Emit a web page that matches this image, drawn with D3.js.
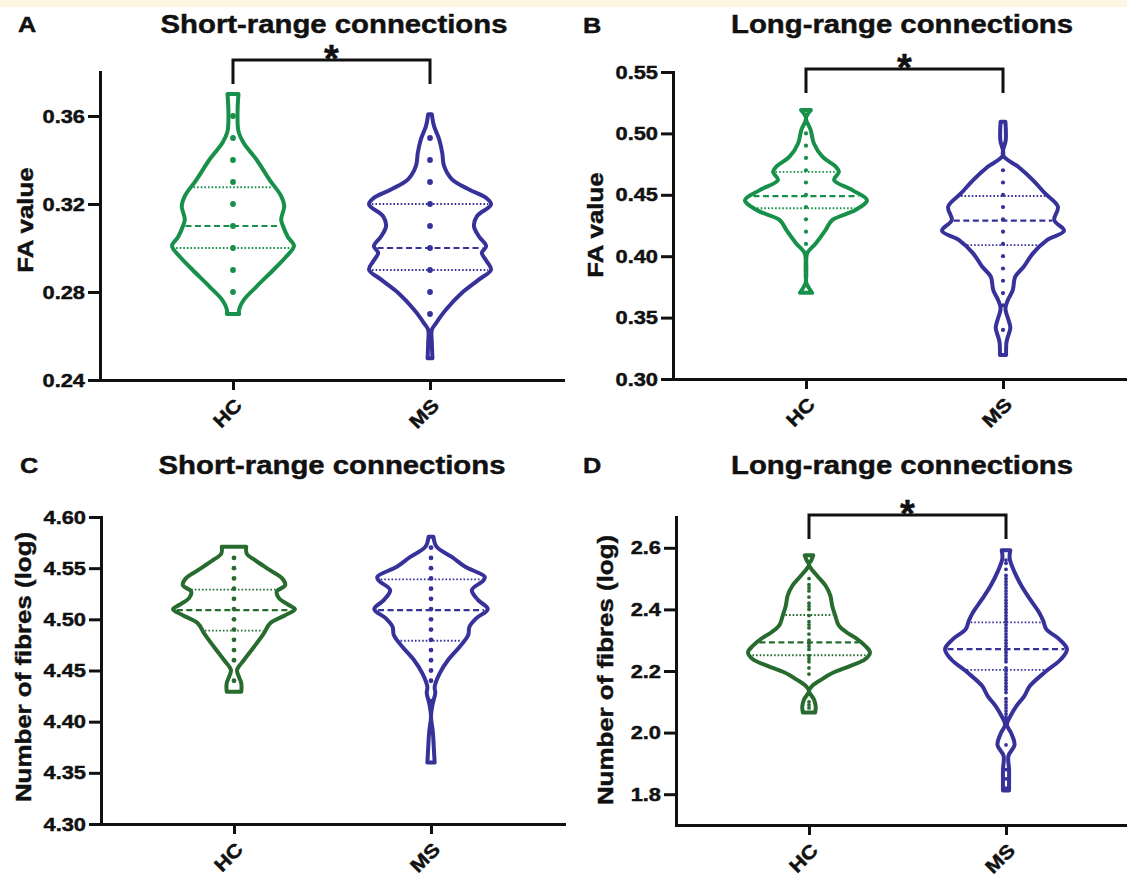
<!DOCTYPE html>
<html>
<head>
<meta charset="utf-8">
<script src="https://cdn.jsdelivr.net/npm/d3@7"></script>
<style>
  body { margin: 0; background: #fff; }
  svg { display: block; font-family: "Liberation Sans", Arial, Helvetica, sans-serif; font-weight: bold; }
  text { stroke: #111; stroke-width: 0.45px; }
</style>
</head>
<body>
<svg id="chart" width="1127" height="876"></svg>
<script>
// ---- data ----
const groups = ["HC", "MS"];
const panelLetters = ["A", "B", "C", "D"];
const panelTitles = ["Short-range connections", "Long-range connections", "Short-range connections", "Long-range connections"];
const yLabels = ["FA value", "FA value", "Number of fibres (log)", "Number of fibres (log)"];
const significant = [true, true, false, true];

// y domains and ticks
const aDomain = [0.24, 0.38], aTicks = [0.24, 0.28, 0.32, 0.36];
const bDomain = [0.30, 0.55], bTicks = [0.30, 0.35, 0.40, 0.45, 0.50, 0.55];
const cDomain = [4.30, 4.60], cTicks = [4.30, 4.35, 4.40, 4.45, 4.50, 4.55, 4.60];
const dDomain = [1.7, 2.7], dTicks = [1.8, 2.0, 2.2, 2.4, 2.6];

// violin outlines: [value, relative density (1 = widest)]
const aHCProfile = [[0.370,0.09],[0.362,0.075],[0.353,0.09],[0.348,0.17],[0.3435,0.29],[0.340,0.39],[0.331,0.60],[0.3236,0.79],[0.319,0.84],[0.313,0.79],[0.310,0.82],[0.305,0.90],[0.301,1.0],[0.296,0.87],[0.290,0.66],[0.2826,0.39],[0.2765,0.18],[0.272,0.10],[0.270,0.10]];
const aMSProfile = [[0.3608,0.03],[0.3555,0.065],[0.3494,0.15],[0.3433,0.2],[0.3373,0.23],[0.3312,0.36],[0.3266,0.64],[0.3228,0.92],[0.3198,1.0],[0.3145,0.77],[0.310,0.72],[0.3053,0.8],[0.3008,0.92],[0.2978,0.85],[0.294,0.93],[0.2902,1.0],[0.2856,0.8],[0.2795,0.52],[0.2719,0.26],[0.2659,0.1],[0.2628,0.03],[0.257,0.03],[0.2499,0.04]];
const bHCProfile = [[0.519,0.08],[0.5125,0.0],[0.5027,0.077],[0.4918,0.13],[0.481,0.27],[0.4728,0.49],[0.4687,0.54],[0.462,0.46],[0.4538,0.76],[0.4457,1.0],[0.4376,0.81],[0.4294,0.43],[0.4213,0.32],[0.4104,0.16],[0.4023,0.02],[0.390,0.006],[0.383,0.004],[0.379,0.0],[0.374,0.05],[0.3702,0.1]];
const bMSProfile = [[0.5094,0.04],[0.4946,0.045],[0.4823,0.0],[0.4728,0.25],[0.462,0.49],[0.4511,0.69],[0.4403,0.9],[0.4294,0.84],[0.4207,1.0],[0.4131,0.72],[0.4023,0.49],[0.3914,0.34],[0.3833,0.2],[0.3724,0.16],[0.3643,0.08],[0.3575,0.04],[0.348,0.09],[0.3415,0.12],[0.3329,0.07],[0.329,0.055],[0.3195,0.05]];
const cHCProfile = [[4.5709,0.2],[4.564,0.21],[4.558,0.34],[4.548,0.59],[4.540,0.79],[4.5335,0.84],[4.527,0.7],[4.5205,0.74],[4.514,0.9],[4.5098,1.0],[4.504,0.84],[4.496,0.59],[4.4863,0.49],[4.4732,0.33],[4.460,0.16],[4.4505,0.05],[4.444,0.08],[4.4375,0.12],[4.4293,0.12]];
const cMSProfile = [[4.5807,0.04],[4.571,0.09],[4.561,0.34],[4.5514,0.56],[4.5416,0.88],[4.538,0.86],[4.5286,0.67],[4.519,0.77],[4.510,0.93],[4.501,0.74],[4.4928,0.63],[4.4847,0.61],[4.4732,0.47],[4.4602,0.28],[4.447,0.14],[4.434,0.06],[4.428,0.07],[4.418,0.03],[4.405,0.0],[4.390,0.03],[4.370,0.05],[4.360,0.06]];
const dHCProfile = [[2.5755,0.07],[2.560,0.04],[2.545,0.0],[2.510,0.13],[2.4776,0.27],[2.445,0.35],[2.412,0.38],[2.380,0.43],[2.347,0.49],[2.325,0.62],[2.3036,0.79],[2.282,0.92],[2.260,1.0],[2.238,0.92],[2.2166,0.68],[2.195,0.4],[2.173,0.21],[2.151,0.05],[2.135,0.0],[2.108,0.08],[2.085,0.11],[2.065,0.1]];
const dMSProfile = [[2.592,0.07],[2.565,0.06],[2.521,0.14],[2.4776,0.25],[2.434,0.39],[2.391,0.54],[2.3634,0.61],[2.336,0.66],[2.3036,0.87],[2.271,1.0],[2.238,0.9],[2.195,0.63],[2.151,0.39],[2.1186,0.3],[2.086,0.17],[2.053,0.07],[2.025,0.015],[2.000,0.08],[1.960,0.14],[1.925,0.04],[1.880,0.05],[1.840,0.05],[1.812,0.05]];

// individual values shown along the centre
const aHCDots = [0.28, 0.29, 0.30, 0.31, 0.32, 0.33, 0.34, 0.35, 0.36];
const aMSDots = [0.27, 0.28, 0.29, 0.30, 0.31, 0.32, 0.33, 0.34, 0.35];
const bHCDots = [0.41, 0.42, 0.43, 0.44, 0.45, 0.46, 0.47, 0.48, 0.49, 0.50];
const bMSDots = [0.34, 0.36, 0.37, 0.38, 0.39, 0.40, 0.41, 0.42, 0.43, 0.44, 0.45, 0.46, 0.47];
const cHCDots = [4.44, 4.46, 4.47, 4.48, 4.49, 4.50, 4.51, 4.52, 4.53, 4.54, 4.55, 4.56];
const cMSDots = [4.42, 4.44, 4.45, 4.46, 4.47, 4.48, 4.49, 4.50, 4.51, 4.52, 4.53, 4.54, 4.55, 4.56, 4.57];
const dHCDots = [2.50, 2.48, 2.47, 2.46, 2.44, 2.42, 2.41, 2.40, 2.38, 2.36, 2.35, 2.34, 2.32, 2.30, 2.29, 2.28, 2.27, 2.25, 2.24, 2.23, 2.21, 2.19, 2.10, 2.09, 2.08];
const dMSDots = [2.56, 2.55, 2.53, 2.51, 2.50, 2.49, 2.48, 2.47, 2.46, 2.45, 2.44, 2.43, 2.42, 2.41, 2.40, 2.39, 2.38, 2.37, 2.36, 2.35, 2.34, 2.33, 2.32, 2.31, 2.30, 2.29, 2.28, 2.27, 2.26, 2.25, 2.24, 2.23, 2.21, 2.20, 2.19, 2.18, 2.17, 2.16, 2.15, 2.14, 2.13, 2.11, 2.10, 2.09, 2.08, 2.07, 2.06, 2.05, 2.04, 1.96, 1.88, 1.85, 1.82];

// quartiles: [Q1, median, Q3]
const aHCQuart = [0.300, 0.310, 0.3276], aMSQuart = [0.290, 0.300, 0.320];
const bHCQuart = [0.439, 0.449, 0.4687], bMSQuart = [0.409, 0.429, 0.449];
const cHCQuart = [4.489, 4.509, 4.529], cMSQuart = [4.479, 4.509, 4.539];
const dHCQuart = [2.251, 2.293, 2.382], dMSQuart = [2.2035, 2.271, 2.358];

// ---- drawing ----
const SX = 1.15; // the figure's lettering is wider than Arial
const svg = d3.select("#chart");
svg.append("rect").attr("x", 0).attr("y", 0).attr("width", 1127).attr("height", 7).attr("fill", "#fdf6e2");

const blue = "#36329a";
const panels = [
  { left: 100, top: 72, bottom: 380, titleX: 334, titleY: 33, letterX: 18, letterY: 32, labX: 33, labY: 220, domain: aDomain, ticks: aTicks, fmt: ".2f",
    green: "#17914a", r: 2.9, brY: 60, profiles: [aHCProfile, aMSProfile], dots: [aHCDots, aMSDots], quart: [aHCQuart, aMSQuart] },
  { left: 673, top: 72, bottom: 379, titleX: 902, titleY: 33, letterX: 583, letterY: 33, labX: 603, labY: 225, domain: bDomain, ticks: bTicks, fmt: ".2f",
    green: "#17914a", r: 2.1, brY: 69, profiles: [bHCProfile, bMSProfile], dots: [bHCDots, bMSDots], quart: [bHCQuart, bMSQuart] },
  { left: 101, top: 517, bottom: 824, titleX: 332, titleY: 474, letterX: 20, letterY: 473, labX: 31, labY: 667, domain: cDomain, ticks: cTicks, fmt: ".2f",
    green: "#276b2e", r: 2.4, brY: null, profiles: [cHCProfile, cMSProfile], dots: [cHCDots, cMSDots], quart: [cHCQuart, cMSQuart] },
  { left: 676, top: 517, bottom: 825, titleX: 902, titleY: 474, letterX: 583, letterY: 473, labX: 613, labY: 670, domain: dDomain, ticks: dTicks, fmt: ".1f",
    green: "#276b2e", r: 1.9, brY: 515, profiles: [dHCProfile, dMSProfile], dots: [dHCDots, dMSDots], quart: [dHCQuart, dMSQuart] }
];

function stext(parent, x, y, str, size, anchor, rot) {
  return parent.append("text")
    .attr("transform", `translate(${x},${y}) rotate(${rot || 0}) scale(${SX},1)`)
    .attr("text-anchor", anchor)
    .attr("font-size", size)
    .attr("fill", "#111")
    .text(str);
}

const wScale = d3.scaleLinear().domain([0, 1]).range([0, 61]);

panels.forEach((p, pi) => {
  const g = svg.append("g");
  const y = d3.scaleLinear().domain(p.domain).range([p.bottom, p.top]);
  const x = d3.scalePoint().domain(groups).range([p.left, p.left + 463]).padding(0.675);

  // titles and labels
  stext(g, p.titleX, p.titleY, panelTitles[pi], 25.5, "middle");
  stext(g, p.letterX, p.letterY, panelLetters[pi], 22, "start");
  stext(g, p.labX, p.labY, yLabels[pi], 22.5, "middle", -90);

  // violins
  groups.forEach((grp, gi) => {
    const cx = x(grp);
    const color = gi === 0 ? p.green : blue;
    const prof = p.profiles[gi];
    const widthAt = d3.scaleLinear().domain(prof.map(d => d[0])).range(prof.map(d => d[1]));

    // quartile and median lines
    p.quart[gi].forEach((v, qi) => {
      const hw = wScale(widthAt(v)) - 2.5;
      g.append("line")
        .attr("x1", cx - hw).attr("x2", cx + hw)
        .attr("y1", y(v)).attr("y2", y(v))
        .attr("stroke", color)
        .attr("stroke-width", qi === 1 ? 2.2 : 1.9)
        .attr("stroke-dasharray", qi === 1 ? "6,3.5" : "1.6,2");
    });

    // points
    g.selectAll(null).data(p.dots[gi]).join("circle")
      .attr("cx", cx).attr("cy", d => y(d)).attr("r", p.r)
      .attr("fill", color);

    // outline
    const area = d3.area()
      .curve(d3.curveCatmullRom.alpha(0.5))
      .y(d => y(d[0]))
      .x0(d => cx - wScale(d[1]))
      .x1(d => cx + wScale(d[1]));
    g.append("path")
      .attr("d", area(prof))
      .attr("fill", "none")
      .attr("stroke", color)
      .attr("stroke-width", 4)
      .attr("stroke-linejoin", "round");
  });

  // axes
  const yAxis = g.append("g")
    .attr("transform", `translate(${p.left},0)`)
    .call(d3.axisLeft(y).tickValues(p.ticks).tickFormat(d3.format(p.fmt)).tickSize(12).tickSizeOuter(0).tickPadding(3));
  const xAxis = g.append("g")
    .attr("transform", `translate(0,${p.bottom})`)
    .call(d3.axisBottom(x).tickSize(10).tickSizeOuter(0));

  [yAxis, xAxis].forEach(ax => {
    ax.attr("font-size", null).attr("font-family", null);
    ax.select(".domain").attr("stroke", "#111").attr("stroke-width", 3).attr("stroke-linecap", "square");
    ax.selectAll(".tick line").attr("stroke", "#111").attr("stroke-width", 3);
    ax.selectAll(".tick text").attr("fill", "#111").attr("font-size", 19);
  });
  yAxis.selectAll(".tick text")
    .attr("x", -15 / SX)
    .attr("transform", `scale(${SX},1)`);
  xAxis.selectAll(".tick text")
    .attr("x", 0).attr("y", 0).attr("dy", "0.35em")
    .attr("text-anchor", "end")
    .attr("transform", `translate(5,22) rotate(-45) scale(${SX},1)`);

  // significance bracket
  if (significant[pi]) {
    const x0 = x("HC"), x1 = x("MS"), by = p.brY;
    g.append("path")
      .attr("d", `M${x0},${by + 24}V${by}H${x1}V${by + 24}`)
      .attr("fill", "none").attr("stroke", "#111").attr("stroke-width", 3);
    g.append("text")
      .attr("x", (x0 + x1) / 2).attr("y", by + 12)
      .attr("text-anchor", "middle").attr("font-size", 38).attr("fill", "#111")
      .text("*");
  }
});
</script>
</body>
</html>
